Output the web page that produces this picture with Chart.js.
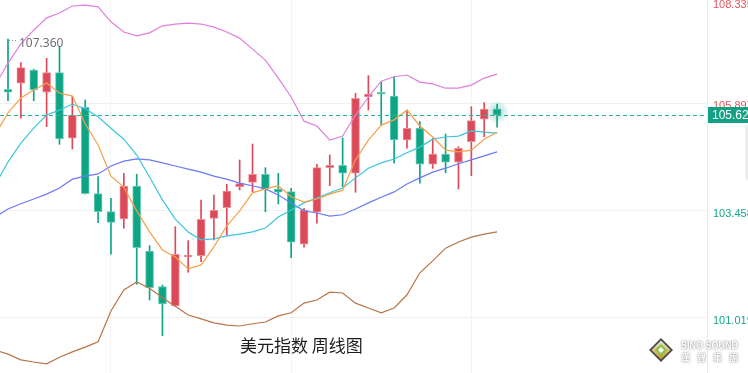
<!DOCTYPE html>
<html><head><meta charset="utf-8">
<script src="https://cdn.jsdelivr.net/npm/chart.js@4.4.1/dist/chart.umd.min.js"></script>
<style>html,body{margin:0;padding:0;background:#fff;overflow:hidden}#wrap{position:relative;width:748px;height:373px}</style>
</head><body><div id="wrap"><canvas id="c" width="748" height="373"></canvas></div>
<script>
// ---- data (week index -1 is off-screen, only indicator lines have a value there) ----
const weeks = [-1,0,1,2,3,4,5,6,7,8,9,10,11,12,13,14,15,16,17,18,19,20,21,22,23,24,25,26,27,28,29,30,31,32,33,34,35,36,37,38];
const openP  = [null,106.216,106.352,106.655,106.147,106.593,105.101,105.806,103.840,103.431,103.264,104.015,102.536,101.724,101.285,102.400,102.429,103.280,103.522,103.999,104.099,104.282,103.947,103.886,102.689,103.417,104.432,104.486,104.304,106.047,106.125,106.063,105.062,105.330,104.509,104.743,104.555,105.023,105.533,105.767];
const highP  = [null,107.360,106.821,106.671,106.921,107.171,106.047,105.972,104.227,103.735,104.304,104.282,102.657,101.763,103.089,102.771,103.697,103.811,104.054,104.607,104.971,104.432,104.304,103.963,103.508,104.509,104.721,105.114,106.125,106.525,106.388,106.502,105.745,105.480,105.101,105.198,104.910,105.820,105.911,105.881];
const lowP   = [null,105.956,105.556,105.956,105.365,104.964,104.857,103.830,103.180,102.461,103.053,101.779,101.421,100.609,101.270,102.052,102.293,102.787,102.885,103.924,103.886,103.431,103.606,102.384,102.621,103.167,104.022,103.999,103.872,105.745,105.403,104.532,104.873,104.080,104.418,104.318,103.947,104.250,105.137,105.351];
const closeP = [null,106.147,106.707,106.200,106.593,105.085,105.631,103.840,103.431,103.189,104.015,102.611,101.701,101.330,102.461,102.423,103.258,103.462,103.902,104.068,104.282,103.947,103.872,102.734,103.469,104.432,104.486,104.304,106.011,106.109,106.102,105.062,105.328,104.509,104.743,104.555,104.873,105.501,105.767,105.625];
const ma5   = [105.18,105.68,106.02,106.20,106.36,106.13,106.06,105.43,104.95,104.24,103.99,103.45,102.97,102.56,102.40,102.13,102.22,102.63,103.11,103.45,103.86,103.95,104.02,103.77,103.65,103.72,103.83,103.92,104.61,105.06,105.40,105.52,105.74,105.38,105.13,104.83,104.79,104.83,105.08,105.24];
const ma10  = [104.04,104.56,104.99,105.33,105.63,105.74,105.88,105.77,105.59,105.33,105.08,104.72,104.22,103.70,103.26,102.97,102.79,102.81,102.88,102.92,102.97,103.06,103.31,103.47,103.63,103.74,103.86,103.97,104.20,104.42,104.54,104.63,104.77,104.90,105.08,105.13,105.15,105.27,105.24,105.22];
const ma20  = [103.31,103.49,103.61,103.72,103.83,103.97,104.17,104.24,104.29,104.47,104.58,104.63,104.61,104.54,104.47,104.40,104.33,104.24,104.17,104.08,104.02,103.95,103.81,103.63,103.45,103.40,103.33,103.36,103.49,103.63,103.76,103.88,104.06,104.20,104.33,104.42,104.52,104.61,104.70,104.79];
const bollUp = [106.31,106.81,107.25,107.56,107.84,107.95,108.11,108.13,108.09,107.75,107.52,107.43,107.50,107.66,107.70,107.72,107.70,107.63,107.52,107.38,107.13,106.88,106.47,106.04,105.49,105.38,105.06,105.15,105.63,106.04,106.40,106.50,106.54,106.38,106.34,106.24,106.24,106.31,106.47,106.56];
const bollDn = [100.28,100.19,100.06,100.01,99.97,100.12,100.24,100.35,100.47,101.17,101.65,101.83,101.69,101.47,101.28,101.08,100.99,100.90,100.85,100.83,100.88,100.92,101.06,101.13,101.35,101.42,101.60,101.58,101.35,101.24,101.13,101.24,101.54,102.04,102.31,102.60,102.74,102.85,102.92,102.97];
const priceTicks = [108.335, 105.897, 103.458, 101.019];
const gridWeeks = [1, 15, 29];
const title = '美元指数 周线图';
const highMarkWeek = 0;

// ---- styling ----
const RED = '#dc4a59', RED_L = '#ec8e98', GREEN = '#0ea486', GREEN_L = '#6ccdb7';
const lastClose = closeP[closeP.length-1];
const idx = weeks.map((w,i)=>i).filter(i=>openP[i]!==null);
const isUp = i => closeP[i] >= openP[i];

const wickData = idx.map(i=>({x:weeks[i], y:[lowP[i], highP[i]]}));
const bodyData = idx.map(i=>({x:weeks[i], y:[Math.min(openP[i],closeP[i]), Math.max(openP[i],closeP[i])]}));
const line = (arr)=>weeks.map((w,i)=>({x:w, y:arr[i]}));
const AXFONT = '11px "Liberation Sans", Arial, sans-serif';

function fitText(ctx, txt, x, y, w){
  const m = ctx.measureText(txt).width;
  ctx.save(); ctx.translate(x, y); ctx.scale(w/m, 1); ctx.fillText(txt, 0, 0); ctx.restore();
}

const overlay = {
  id:'overlay',
  afterDatasetsDraw(chart){
    const {ctx, chartArea:a, scales:{x, y}} = chart;
    ctx.save();
    // glow on last candle
    const lw = weeks[weeks.length-1];
    const gx = x.getPixelForValue(lw), gy = y.getPixelForValue((openP[openP.length-1]+lastClose)/2);
    const g = ctx.createRadialGradient(gx,gy,2,gx,gy,12);
    g.addColorStop(0,'rgba(14,164,134,0.35)'); g.addColorStop(1,'rgba(14,164,134,0)');
    ctx.fillStyle = g; ctx.fillRect(gx-14,gy-14,28,28);
    // last price dashed line
    const py = Math.round(y.getPixelForValue(lastClose))+0.5;
    ctx.strokeStyle = '#2bb096'; ctx.lineWidth = 1; ctx.setLineDash([4,3]);
    ctx.beginPath(); ctx.moveTo(a.left,py); ctx.lineTo(a.right,py); ctx.stroke();
    ctx.setLineDash([]);
    // high marker
    const hx = x.getPixelForValue(weeks[highMarkWeek+1]), hy = Math.round(y.getPixelForValue(highP[highMarkWeek+1]))+1.5;
    ctx.strokeStyle = '#8a8f99'; ctx.setLineDash([1,2]);
    ctx.beginPath(); ctx.moveTo(hx+1,hy); ctx.lineTo(hx+10,hy); ctx.stroke(); ctx.setLineDash([]);
    ctx.fillStyle = '#6b6f78'; ctx.font = '12px "Noto Sans", Roboto, sans-serif'; ctx.textBaseline='middle'; ctx.textAlign='left';
    ctx.fillText(highP[highMarkWeek+1].toFixed(3), hx+11, hy+3);
    // title
    ctx.fillStyle = '#1c1c1c'; ctx.font = '17px "Noto Sans CJK SC", sans-serif';
    ctx.fillText(title, 240, 346);
    ctx.restore();
  },
  afterDraw(chart){
    const {ctx, chartArea:a, scales:{y}} = chart;
    ctx.save();
    ctx.font = AXFONT; ctx.textBaseline='middle'; ctx.textAlign='left';
    priceTicks.forEach(v=>{
      let ty = y.getPixelForValue(v)+3; if (ty < 5) ty = 5;
      ctx.fillStyle = v > lastClose ? '#e5535f' : '#15a588';
      ctx.fillText(v.toFixed(3), a.right+6, ty);
    });
    // last price tag
    const py = Math.round(y.getPixelForValue(lastClose));
    ctx.fillStyle = '#12a283'; ctx.fillRect(a.right+1, py-8, 48, 16);
    ctx.fillStyle = '#fff'; ctx.font = '12px "Liberation Sans", Arial, sans-serif';
    ctx.fillText(lastClose.toFixed(3), a.right+5, py+1);
    // small side panel
    ctx.fillStyle = '#eceef2';
    ctx.beginPath(); ctx.roundRect(745,125,10,55,3); ctx.fill();
    // logo
    const cx = 661, cy = 350;
    const dia = (r,col)=>{ctx.fillStyle=col; ctx.beginPath(); ctx.moveTo(cx,cy-r); ctx.lineTo(cx+r,cy); ctx.lineTo(cx,cy+r); ctx.lineTo(cx-r,cy); ctx.closePath(); ctx.fill();};
    dia(12,'#4a4a4a');
    const lg = ctx.createLinearGradient(cx,cy-10,cx,cy+10); lg.addColorStop(0,'#e8e8e8'); lg.addColorStop(0.5,'#d9c37a'); lg.addColorStop(1,'#b8921e');
    dia(9.5,lg); dia(6,'#8ac045'); dia(3,'#ffffff');
    ctx.shadowColor='rgba(0,0,0,0.6)'; ctx.shadowBlur=2;
    ctx.fillStyle='#ffffff'; ctx.font='bold 10px "Liberation Sans", Arial, sans-serif'; ctx.textBaseline='middle';
    fitText(ctx, 'SINO SOUND', 681, 346, 57);
    ctx.font='bold 9px "Noto Sans CJK TC", sans-serif';
    ['漢','聲','集','團'].forEach((ch,k)=>ctx.fillText(ch, 681+k*16, 357.5));
    ctx.restore();
  }
};

new Chart(document.getElementById('c'), {
  type:'bar',
  data:{datasets:[
    {type:'line', data:line(ma5),  borderColor:'#f7a04a', borderWidth:1.2, pointRadius:0, order:0},
    {type:'line', data:line(ma10), borderColor:'#3cc5df', borderWidth:1.2, pointRadius:0, order:0},
    {type:'line', data:line(ma20), borderColor:'#6e79f7', borderWidth:1.2, pointRadius:0, order:0},
    {type:'line', data:line(bollUp), borderColor:'#df80d9', borderWidth:1.2, pointRadius:0, order:0},
    {type:'line', data:line(bollDn), borderColor:'#b97548', borderWidth:1.2, pointRadius:0, order:0},
    {data:bodyData, grouped:false, barThickness:8, minBarLength:2, borderWidth:1, borderSkipped:false,
      backgroundColor: idx.map(i=>isUp(i)?RED:GREEN), borderColor: idx.map(i=>isUp(i)?RED_L:GREEN_L), order:1},
    {data:wickData, grouped:false, barThickness:1, borderWidth:0,
      backgroundColor: idx.map(i=>isUp(i)?RED:GREEN), order:2}
  ]},
  options:{
    responsive:false, animation:false, devicePixelRatio:1,
    layout:{padding:0},
    plugins:{legend:{display:false}, tooltip:{enabled:false}},
    scales:{
      x:{type:'linear', min:-0.6216, max:54.31, offset:false,
         grid:{color:'#f4f4f4', drawTicks:false}, border:{display:false}, ticks:{display:false},
         afterBuildTicks:s=>{s.ticks = gridWeeks.map(v=>({value:v}));}, afterFit:s=>{s.height=0;}},
      y:{position:'right', min:99.76, max:108.247,
         grid:{color:'#f1f1f1', drawTicks:false}, border:{color:'#ebebeb'}, ticks:{display:false},
         afterBuildTicks:s=>{s.ticks = priceTicks.filter(v=>v>=s.min&&v<=s.max).map(v=>({value:v}));},
         afterFit:s=>{s.width=41;}}
    }
  },
  plugins:[overlay]
});
</script></body></html>
